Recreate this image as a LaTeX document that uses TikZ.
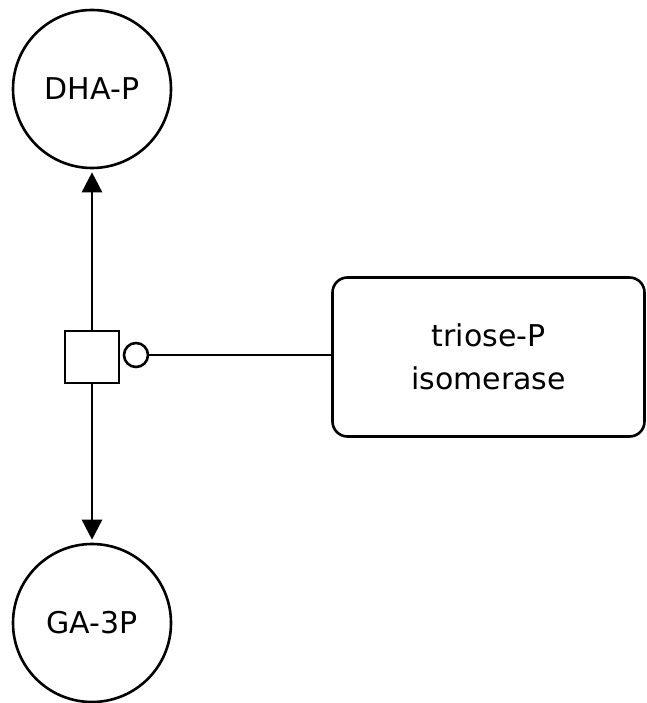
\documentclass[tikz,border=0pt]{standalone}
\usepackage{fontspec}
\setmainfont{DejaVu Sans}
\usetikzlibrary{arrows.meta}
\begin{document}
\begin{tikzpicture}[x=1pt,y=-1pt,
  every node/.style={font=\fontsize{30}{43}\selectfont},
  species/.style={draw,circle,line width=2.6pt,minimum size=158pt,inner sep=0pt},
  procbox/.style={draw,rectangle,line width=2.6pt,minimum width=54pt,minimum height=52pt,inner sep=0pt},
  enzyme/.style={draw,rounded corners=15pt,line width=2.6pt,minimum width=312pt,minimum height=159pt,align=center},
  catal/.style={draw,circle,line width=2.6pt,minimum size=24pt,inner sep=0pt},
  link/.style={line width=2.6pt},
  prod/.style={line width=2.6pt,-{Triangle[length=20pt,width=20pt]},shorten >=3pt}]
\useasboundingbox (0,0) rectangle (646,703);
\node[species] (dhap) at (92,89) {DHA-P};
\node[species] (ga3p) at (92,623) {GA-3P};
\node[procbox] (proc) at (92,357) {};
\node[catal] (cat) at (136,355) {};
\node[enzyme] (tpi) at (488.5,357) {triose-P\\isomerase};
\draw[prod] (proc) -- (dhap);
\draw[prod] (proc) -- (ga3p);
\draw[link] (cat.east) -- (tpi.west |- cat.east);
\end{tikzpicture}
\end{document}
